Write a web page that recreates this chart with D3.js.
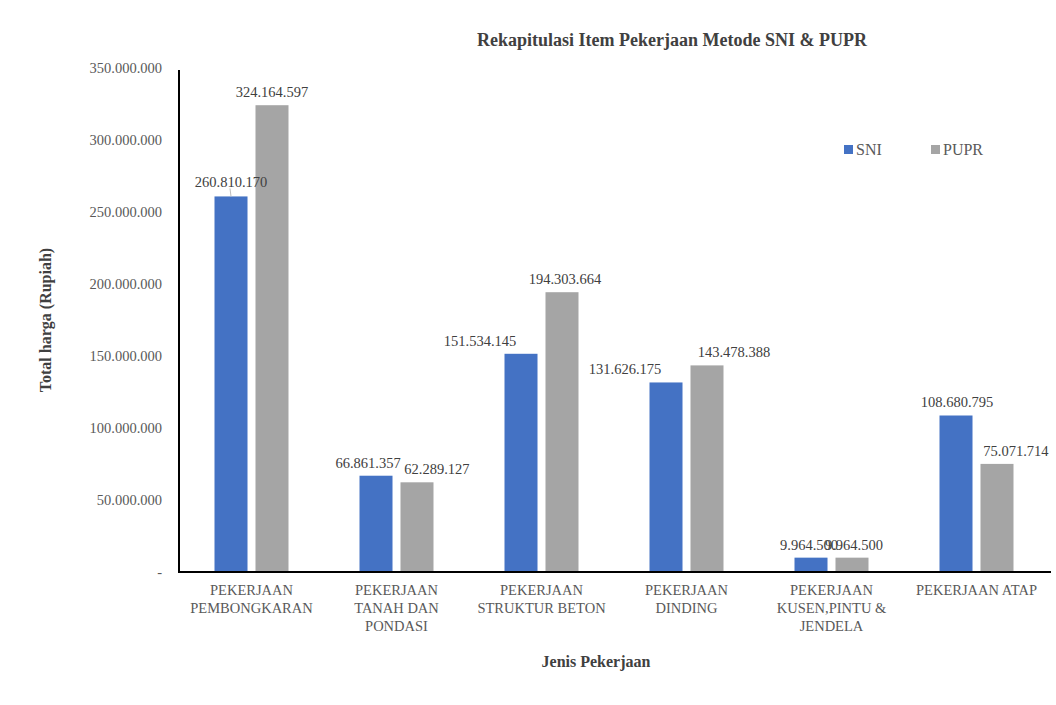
<!DOCTYPE html>
<html><head><meta charset="utf-8">
<script src="https://cdn.jsdelivr.net/npm/d3@7"></script>
<style>body{margin:0;background:#fff}</style>
</head><body><svg id="c" width="1056" height="705" font-family="'Liberation Serif', 'DejaVu Serif', serif"></svg>
<script>
const categories = [["PEKERJAAN","PEMBONGKARAN"],["PEKERJAAN","TANAH DAN","PONDASI"],["PEKERJAAN","STRUKTUR BETON"],["PEKERJAAN","DINDING"],["PEKERJAAN","KUSEN,PINTU &","JENDELA"],["PEKERJAAN ATAP"]];
const seriesNames = ["SNI","PUPR"];
const sniValues = [260810170,66861357,151534145,131626175,9964500,108680795];
const puprValues = [324164597,62289127,194303664,143478388,9964500,75071714];
const yTicks = [0,50000000,100000000,150000000,200000000,250000000,300000000,350000000];
const colors = ["#4472C4","#A5A5A5"];
// label horizontal offsets (px) relative to bar centre, as placed in the reference
const labelDx = [[0,0],[-8,20],[-41,3],[-41,27],[-2,2],[1,19]];

const svg = d3.select("#c");
const m = {l:179, r:1049, t:68, b:572};
const x0 = d3.scaleBand().domain(d3.range(categories.length)).range([m.l,m.r]).paddingInner(0).paddingOuter(0);
const x1 = d3.scaleBand().domain([0,1]).range([0,x0.bandwidth()]).paddingInner(0.195).paddingOuter(0.866);
const y = d3.scaleLinear().domain([0,350000000]).range([m.b,m.t]);
const fmt = v => v===0 ? "-" : d3.format(",")(v).replace(/,/g,".");

// y tick labels
svg.append("g").selectAll("text").data(yTicks).join("text")
  .attr("x",162).attr("y",d=>y(d)+5).attr("text-anchor","end")
  .attr("font-size",14.5).attr("fill","#595959").text(fmt);

const data = categories.map((c,i)=>({i, vals:[sniValues[i],puprValues[i]]}));
const g = svg.append("g");
data.forEach(d=>{
  d.vals.forEach((v,s)=>{
    g.append("rect").attr("x",x0(d.i)+x1(s)).attr("width",x1.bandwidth())
     .attr("y",y(v)).attr("height",y(0)-y(v)).attr("fill",colors[s]);
  });
});
// axes lines
svg.append("line").attr("x1",m.l).attr("x2",m.l).attr("y1",m.t+2).attr("y2",m.b).attr("stroke","#000").attr("stroke-width",2);
svg.append("line").attr("x1",m.l-1).attr("x2",m.r+2).attr("y1",m.b).attr("y2",m.b).attr("stroke","#000").attr("stroke-width",2);

// data labels
data.forEach(d=>{
  d.vals.forEach((v,s)=>{
    const cx = x0(d.i)+x1(s)+x1.bandwidth()/2;
    let ly = y(v)-8;
    if(d.i===0 && s===0){ ly = y(v)-9;
      svg.append("line").attr("x1",cx).attr("x2",cx-1).attr("y1",y(v)).attr("y2",y(v)-8).attr("stroke","#bfbfbf").attr("stroke-width",1);
    }
    svg.append("text").attr("x",cx+labelDx[d.i][s]).attr("y",(d.i===0&&s===0)?187:ly)
      .attr("text-anchor","middle").attr("font-size",14.5).attr("fill","#404040").text(fmt(v));
  });
});

// category labels
categories.forEach((c,i)=>{
  const t = svg.append("text").attr("text-anchor","middle").attr("font-size",14.5).attr("fill","#595959");
  c.forEach((line,k)=>t.append("tspan").attr("x",x0(i)+x0.bandwidth()/2).attr("y",595+k*18).text(line));
});

// titles
svg.append("text").attr("x",672).attr("y",46).attr("text-anchor","middle").attr("font-size",18).attr("font-weight","bold").attr("fill","#404040").text("Rekapitulasi Item Pekerjaan Metode SNI & PUPR");
svg.append("text").attr("x",596).attr("y",667).attr("text-anchor","middle").attr("font-size",16).attr("font-weight","bold").attr("fill","#404040").text("Jenis Pekerjaan");
svg.append("text").attr("transform","translate(51,320) rotate(-90)").attr("text-anchor","middle").attr("font-size",16).attr("font-weight","bold").attr("fill","#404040").text("Total harga (Rupiah)");

// legend
const lx = [844,931];
seriesNames.forEach((n,s)=>{
  svg.append("rect").attr("x",lx[s]).attr("y",145).attr("width",9).attr("height",9).attr("fill",colors[s]);
  svg.append("text").attr("x",lx[s]+12).attr("y",155).attr("font-size",16).attr("fill","#595959").text(n);
});
</script></body></html>
